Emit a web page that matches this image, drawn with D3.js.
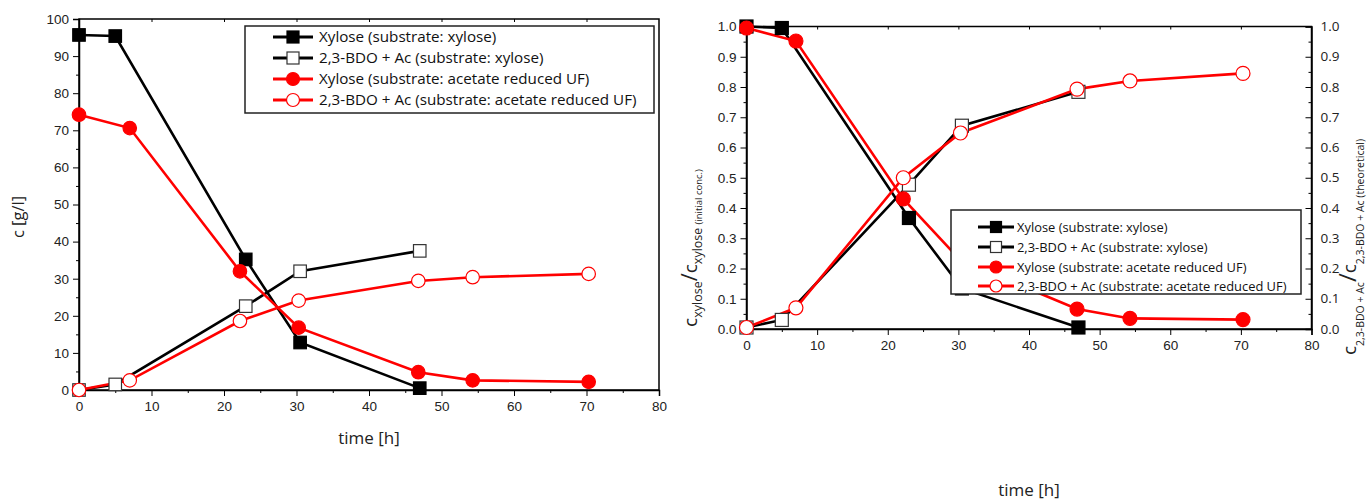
<!DOCTYPE html>
<html>
<head>
<meta charset="utf-8">
<script src="https://cdn.jsdelivr.net/npm/d3@7"></script>
<style>
  body { margin: 0; background: #fff; }
  svg { display: block; font-family: 'Open Sans', sans-serif; }
</style>
</head>
<body>
<script>
// data
const seriesNames = [
  'Xylose (substrate: xylose)',
  '2,3-BDO + Ac (substrate: xylose)',
  'Xylose (substrate: acetate reduced UF)',
  '2,3-BDO + Ac (substrate: acetate reduced UF)'
]

// time points
const tXylose = [0, 5, 23, 30.5, 47]
const tUF = [0, 7, 22.2, 30.3, 46.8, 54.3, 70.3]

// left panel: concentration [g/l]
const cXylose_xyl = [95.7, 95.4, 35.2, 12.8, 0.5]
const cBDO_xyl = [0, 1.5, 22.6, 32.0, 37.5]
const cXylose_UF = [74.2, 70.6, 32.0, 16.8, 4.8, 2.6, 2.2]
const cBDO_UF = [0, 2.6, 18.6, 24.1, 29.4, 30.4, 31.3]

// right panel: relative concentration
const rXylose_xyl = [1.0, 0.995, 0.367, 0.134, 0.005]
const rBDO_xyl = [0.005, 0.03, 0.477, 0.672, 0.784]
const rXylose_UF = [0.995, 0.952, 0.43, 0.227, 0.066, 0.035, 0.031]
const rBDO_UF = [0.005, 0.07, 0.50, 0.648, 0.793, 0.82, 0.845]

const xTicks = d3.range(0, 81, 10)

const width = 1371
const height = 502

const styles = [
  { color: '#000', shape: 'square', filled: true },
  { color: '#000', shape: 'square', filled: false },
  { color: '#f00', shape: 'circle', filled: true },
  { color: '#f00', shape: 'circle', filled: false }
]

const svg = d3.select('body')
  .append('svg')
    .attr('width', width)
    .attr('height', height)

function zip(t, v) {
  return t.map((d, i) => ({ t: d, v: v[i] }))
}

function marker(g, st, cx, cy, size) {
  if (st.shape === 'square') {
    g.append('rect')
      .attr('x', cx - size / 2).attr('y', cy - size / 2)
      .attr('width', size).attr('height', size)
      .attr('fill', st.filled ? st.color : '#fff')
      .attr('stroke', st.filled ? st.color : '#333')
      .attr('stroke-width', 1.2)
  } else {
    g.append('circle')
      .attr('cx', cx).attr('cy', cy).attr('r', size / 2 + 0.5)
      .attr('fill', st.filled ? st.color : '#fff')
      .attr('stroke', st.color)
      .attr('stroke-width', 1.2)
  }
}

function panel(p) {
  const x = d3.scaleLinear().domain([0, 80]).range([p.left, p.right])
  const y = d3.scaleLinear().domain(p.yDomain).range([p.bottom, p.top])
  const g = svg.append('g')

  // frame
  g.append('rect')
    .attr('x', p.left).attr('y', p.top)
    .attr('width', p.right - p.left).attr('height', p.bottom - p.top)
    .attr('fill', 'none').attr('stroke', '#000').attr('stroke-width', 1.5)

  // bottom axis
  const ax = g.append('g')
    .attr('transform', 'translate(0,' + p.bottom + ')')
    .call(d3.axisBottom(x).tickValues(xTicks).tickSize(6).tickPadding(5))
  ax.select('.domain').attr('stroke-width', 1.5)
  ax.selectAll('text').attr('font-size', 13.5).attr('font-family', null).attr('fill', '#222')
  g.append('g')
    .attr('transform', 'translate(0,' + p.bottom + ')')
    .call(d3.axisBottom(x).tickValues(d3.range(5, 80, 10)).tickSize(3).tickFormat(''))
    .select('.domain').remove()

  // left axis
  const ay = g.append('g')
    .attr('transform', 'translate(' + p.left + ',0)')
    .call(d3.axisLeft(y).tickValues(p.yTicks).tickSize(6).tickPadding(4).tickFormat(p.fmt))
  ay.select('.domain').attr('stroke-width', 1.5)
  ay.selectAll('text').attr('font-size', 13.5).attr('font-family', null).attr('fill', '#222')
  g.append('g')
    .attr('transform', 'translate(' + p.left + ',0)')
    .call(d3.axisLeft(y).tickValues(p.yMinor).tickSize(3).tickFormat(''))
    .select('.domain').remove()

  // top ticks (inward)
  g.append('g')
    .attr('transform', 'translate(0,' + p.top + ')')
    .call(d3.axisBottom(x).tickValues(d3.range(10, 80, 10)).tickSize(3).tickFormat(''))
    .select('.domain').remove()

  if (p.rightAxis) {
    const ar = g.append('g')
      .attr('transform', 'translate(' + p.right + ',0)')
      .call(d3.axisLeft(y).tickValues(p.yTicks).tickSize(6).tickFormat(''))
    ar.select('.domain').attr('stroke-width', 1.5)
    g.append('g')
      .attr('transform', 'translate(' + p.right + ',0)')
      .call(d3.axisLeft(y).tickValues(p.yMinor).tickSize(3).tickFormat(''))
      .select('.domain').remove()
    g.append('g')
      .selectAll('text')
      .data(p.yTicks)
      .join('text')
        .attr('x', p.right + 9)
        .attr('y', (d) => y(d))
        .attr('dy', '0.35em')
        .attr('font-size', 13.5)
        .attr('fill', '#222')
        .text(p.fmt)
  }

  // x title
  g.append('text')
    .attr('x', (p.left + p.right) / 2)
    .attr('y', p.xTitleY)
    .attr('text-anchor', 'middle')
    .attr('font-size', 17)
    .attr('fill', '#222')
    .text('time [h]')

  // series
  p.series.forEach((s, i) => {
    const st = styles[i]
    const line = d3.line().x((d) => x(d.t)).y((d) => y(d.v))
    g.append('path')
      .attr('d', line(s))
      .attr('fill', 'none')
      .attr('stroke', st.color)
      .attr('stroke-width', 2.6)
  })
  p.series.forEach((s, i) => {
    const mg = g.append('g')
    s.forEach((d) => marker(mg, styles[i], x(d.t), y(d.v), p.msize))
  })

  // legend
  const L = p.legend
  g.append('rect')
    .attr('x', L.x0).attr('y', L.y0)
    .attr('width', L.x1 - L.x0).attr('height', L.y1 - L.y0)
    .attr('fill', '#fff').attr('stroke', '#222').attr('stroke-width', 1.5)
  seriesNames.forEach((name, i) => {
    const ry = L.rows[i]
    g.append('line')
      .attr('x1', L.lx0).attr('x2', L.lx1)
      .attr('y1', ry).attr('y2', ry)
      .attr('stroke', styles[i].color).attr('stroke-width', 3)
    marker(g, styles[i], (L.lx0 + L.lx1) / 2, ry, L.msize)
    g.append('text')
      .attr('x', L.tx).attr('y', ry)
      .attr('dy', '0.35em')
      .attr('font-size', L.fs)
      .attr('fill', '#111')
      .text(name)
  })
  return g
}

panel({
  left: 79, right: 659, top: 19, bottom: 390,
  yDomain: [0, 100],
  yTicks: d3.range(0, 101, 10),
  yMinor: d3.range(5, 100, 10),
  fmt: d3.format('d'),
  xTitleY: 444,
  msize: 12.5,
  series: [zip(tXylose, cXylose_xyl), zip(tXylose, cBDO_xyl), zip(tUF, cXylose_UF), zip(tUF, cBDO_UF)],
  legend: { x0: 245, x1: 654, y0: 26, y1: 113, rows: [37, 58, 79, 100], lx0: 273, lx1: 313, tx: 319, fs: 15.2, msize: 12 }
})

panel({
  left: 746.5, right: 1311.5, top: 26.5, bottom: 329,
  yDomain: [0, 1],
  yTicks: d3.range(0, 11).map((d) => d / 10),
  yMinor: d3.range(0, 10).map((d) => d / 10 + 0.05),
  fmt: d3.format('.1f'),
  rightAxis: true,
  xTitleY: 496,
  msize: 13,
  series: [zip(tXylose, rXylose_xyl), zip(tXylose, rBDO_xyl), zip(tUF, rXylose_UF), zip(tUF, rBDO_UF)],
  legend: { x0: 951, x1: 1301, y0: 210, y1: 294, rows: [227, 247, 267, 286], lx0: 978, lx1: 1014, tx: 1017, fs: 12.9, msize: 11 }
})

// y titles
svg.append('text')
  .attr('transform', 'translate(24,217)rotate(-90)')
  .attr('text-anchor', 'middle')
  .attr('font-size', 16.5)
  .attr('fill', '#222')
  .text('c [g/l]')

const yl = svg.append('text')
  .attr('transform', 'translate(697,248)rotate(-90)')
  .attr('text-anchor', 'middle')
  .attr('fill', '#222')
yl.append('tspan').attr('font-size', 19).text('c')
yl.append('tspan').attr('font-size', 12.5).attr('dy', 5).text('xylose')
yl.append('tspan').attr('font-size', 22).attr('dy', -5).text('/')
yl.append('tspan').attr('font-size', 19).text('c')
yl.append('tspan').attr('font-size', 12.5).attr('dy', 5).text('xylose ')
yl.append('tspan').attr('font-size', 9.5).text('(initial conc.)')

const yr = svg.append('text')
  .attr('transform', 'translate(1356,247)rotate(-90)')
  .attr('text-anchor', 'middle')
  .attr('fill', '#222')
yr.append('tspan').attr('font-size', 19).text('c')
yr.append('tspan').attr('font-size', 10.5).attr('dy', 8).text('2,3-BDO + Ac')
yr.append('tspan').attr('font-size', 24).attr('dy', -8).text('/')
yr.append('tspan').attr('font-size', 19).text('c')
yr.append('tspan').attr('font-size', 10.5).attr('dy', 8).text('2,3-BDO + Ac (theoretical)')
</script>
</body>
</html>
